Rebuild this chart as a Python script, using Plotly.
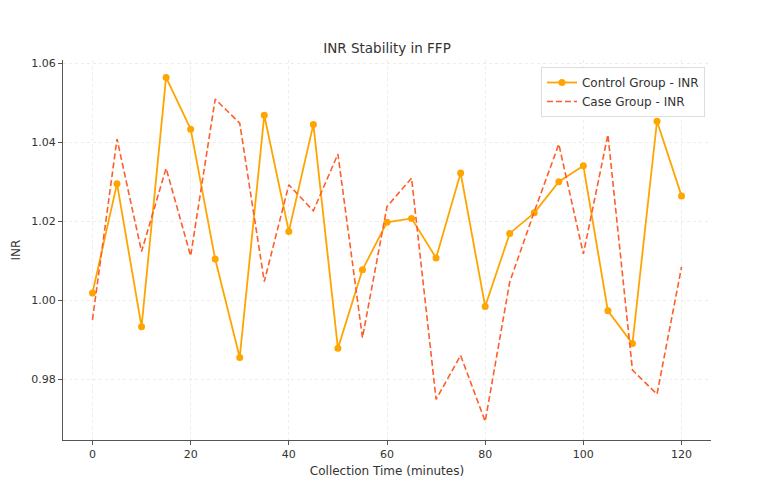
import plotly.graph_objects as go

time_min = [0, 5, 10, 15, 20, 25, 30, 35, 40, 45, 50, 55, 60, 65, 70, 75, 80, 85, 90, 95, 100, 105, 110, 115, 120]
control_inr = [1.0019, 1.0296, 0.9934, 1.0565, 1.0434, 1.0105, 0.9856, 1.0469, 1.0175, 1.0446,
               0.9879, 1.0078, 1.0198, 1.0208, 1.0108, 1.0323, 0.9985, 1.0170, 1.0222, 1.0301,
               1.0341, 0.9974, 0.9891, 1.0454, 1.0265]
case_inr = [0.9951, 1.0409, 1.0124, 1.0335, 1.0113, 1.0510, 1.0449, 1.0048, 1.0293, 1.0227,
            1.0371, 0.9906, 1.0238, 1.0310, 0.9750, 0.9861, 0.9694, 1.0047, 1.0225, 1.0396,
            1.0118, 1.0420, 0.9824, 0.9763, 1.0085]
x_ticks = [0, 20, 40, 60, 80, 100, 120]
y_ticks = [0.98, 1.00, 1.02, 1.04, 1.06]

font_family = "DejaVu Sans"
fig = go.Figure()
fig.add_trace(go.Scatter(x=time_min, y=control_inr, mode="lines+markers", name="Control Group - INR",
                         line=dict(color="#FFA500", width=1.8), marker=dict(color="#FFA500", size=7)))
fig.add_trace(go.Scatter(x=time_min, y=case_inr, mode="lines", name="Case Group - INR",
                         line=dict(color="#FF5E2B", width=1.6, dash="6px,3px")))

axis_common = dict(showline=True, linecolor="#555555", linewidth=1.2, ticks="outside", ticklen=4,
                   tickcolor="#555555", showgrid=True, gridcolor="#ececec", griddash="dot", gridwidth=1,
                   zeroline=False, tickfont=dict(family=font_family, size=11, color="#333333"), mirror=False)

fig.update_layout(
    width=773, height=499,
    margin=dict(l=63, r=62, t=60, b=59),
    paper_bgcolor="white", plot_bgcolor="white",
    title=dict(text="INR Stability in FFP", x=(63 + 711) / 2 / 773, xanchor="center", y=1 - 48 / 499, yanchor="middle",
               font=dict(family=font_family, size=13.5, color="#333333")),
    xaxis=dict(range=[-6, 126], tickvals=x_ticks, ticktext=[str(v) for v in x_ticks],
               title=dict(text="Collection Time (minutes)", font=dict(family=font_family, size=12, color="#333333"), standoff=6),
               **axis_common),
    yaxis=dict(range=[0.9647, 1.0609], tickvals=y_ticks, ticktext=[f"{v:.2f}" for v in y_ticks],
               title=dict(text="INR", font=dict(family=font_family, size=12, color="#333333"), standoff=8),
               **axis_common),
    legend=dict(x=0.9907, xanchor="right", y=0.9816, yanchor="top", bgcolor="rgba(255,255,255,0.8)",
                bordercolor="#dddddd", borderwidth=1, font=dict(family=font_family, size=12, color="#333333"),
                tracegroupgap=0, itemwidth=30),
    showlegend=True,
)

fig.write_html("out.html")
